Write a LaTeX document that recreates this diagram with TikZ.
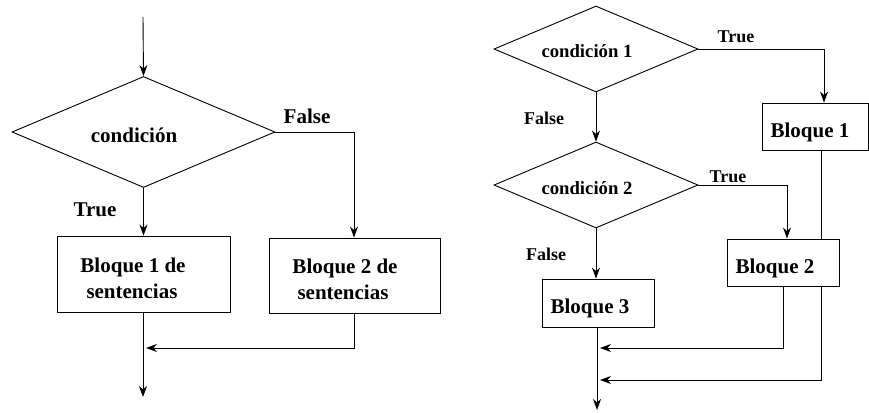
\documentclass[tikz,border=0pt]{standalone}
\usepackage{fontspec}
\setmainfont{Liberation Serif}
\usetikzlibrary{shapes.geometric,arrows.meta,backgrounds}
\tikzset{
  line/.style={draw=black, line width=0.9pt},
  arr/.style={line, -{Stealth[length=11pt,width=8pt,inset=3.5pt]}},
  cond/.style={shape=diamond, draw=black, line width=0.9pt, fill=white, inner sep=0pt},
  blk/.style={shape=rectangle, draw=black, line width=0.9pt, fill=white, inner sep=0pt},
  big/.style={font=\fontsize{21}{24}\selectfont\bfseries, anchor=base, inner sep=0pt},
  mid/.style={font=\fontsize{18.7}{22}\selectfont\bfseries, anchor=base, inner sep=0pt},
  small/.style={font=\fontsize{18}{21}\selectfont\bfseries, anchor=base, inner sep=0pt},
}
\begin{document}
\begin{tikzpicture}[x=1pt,y=-1pt]
\useasboundingbox (0,0) rectangle (869,412);
% ---------- left diagram ----------
\coordinate (start) at (143,17);
\node[cond, minimum width=263pt, minimum height=111pt] (d0) at (143.5,132) {};
\node[big] (d0t) at (134,142) {condición};
\node[big] (f0) at (307,123) {False};
\node[big] (t0) at (95,216) {True};
\node[blk, minimum width=173pt, minimum height=76pt] (lb1) at (143.5,274) {};
\node[big] (lb1a) at (133,272) {Bloque 1 de};
\node[big] (lb1b) at (132,298) {sentencias};
\node[blk, minimum width=171pt, minimum height=75pt] (lb2) at (354.5,275.5) {};
\node[big] (lb2a) at (345,273) {Bloque 2 de};
\node[big] (lb2b) at (343,299) {sentencias};
\coordinate (lend) at (143,397);
\coordinate (lj) at (354,132);
\coordinate (lm) at (354,348);
\coordinate (lmt) at (146,348);
\draw[arr] (start) -- (d0.north);
\draw[arr] (d0.south) -- (lb1.north -| d0.south);
\draw[arr] (d0.east) -- (lj) -- (lj |- lb2.north);
\draw[arr] (lb1.south -| lend) -- (lend);
\draw[arr] (lm |- lb2.south) -- (lm) -- (lmt);
% ---------- right diagram ----------
\node[cond, minimum width=204pt, minimum height=86pt] (c1) at (596,49) {};
\node[mid] (c1t) at (587,58) {condición 1};
\node[small] (tr1) at (736,43) {True};
\node[small] (fa1) at (544,124) {False};
\node[cond, minimum width=204pt, minimum height=86pt] (c2) at (596,185) {};
\node[mid] (c2t) at (587,194) {condición 2};
\node[small] (tr2) at (728,182) {True};
\node[small] (fa2) at (546,260) {False};
\coordinate (r1) at (824,49);
\coordinate (r2) at (787,185);
\coordinate (bend) at (597,410);
\coordinate (m2) at (783,348);
\coordinate (m2t) at (600,348);
\coordinate (m1) at (821,380);
\coordinate (m1t) at (600,380);
\begin{scope}[on background layer]
\draw[arr] (m1 |- 0,150) -- (m1) -- (m1t);
\end{scope}
\node[blk, minimum width=106pt, minimum height=47pt] (rb1) at (815,126.5) {};
\node[big] (rb1t) at (810,137) {Bloque 1};
\node[blk, minimum width=112pt, minimum height=47pt] (rb2) at (783,262.5) {};
\node[big] (rb2t) at (775,273) {Bloque 2};
\node[blk, minimum width=112pt, minimum height=48pt] (rb3) at (598,303) {};
\node[big] (rb3t) at (590,313) {Bloque 3};
\draw[arr] (c1.east) -- (r1) -- (r1 |- rb1.north);
\draw[arr] (c1.south) -- (c2.north);
\draw[arr] (c2.east) -- (r2) -- (r2 |- rb2.north);
\draw[arr] (c2.south) -- (c2.south |- rb3.north);
\draw[arr] (rb3.south -| bend) -- (bend);
\draw[arr] (rb2.south -| m2) -- (m2) -- (m2t);
\end{tikzpicture}
\end{document}
